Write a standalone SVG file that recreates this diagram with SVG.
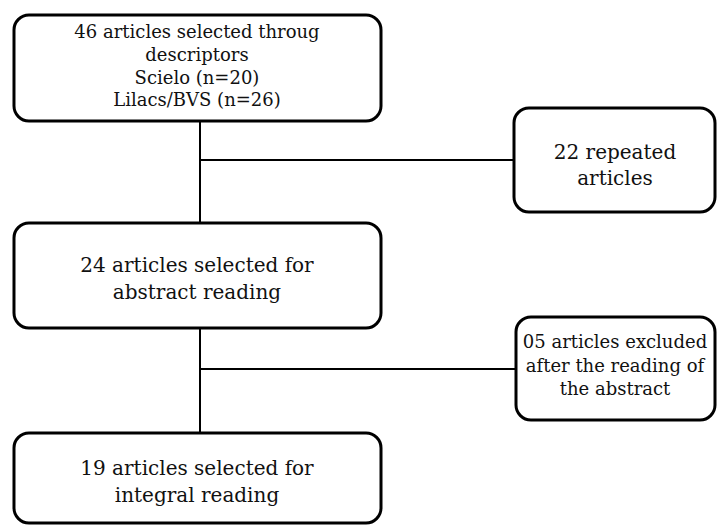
<svg xmlns="http://www.w3.org/2000/svg" width="717" height="528" viewBox="0 0 717 528">
<style>
.box{fill:#fff;stroke:#000;stroke-width:3}
.ln{stroke:#000;stroke-width:2;fill:none}
text{font-family:"DejaVu Serif","Liberation Serif",serif;fill:#111;text-anchor:middle}
.s{font-size:18px}
.m{font-size:20px}
</style>
<rect width="717" height="528" fill="#fff"/>
<g id="connectors">
<line class="ln" x1="200" y1="121" x2="200" y2="224"/>
<line class="ln" x1="200" y1="160" x2="514" y2="160"/>
<line class="ln" x1="200" y1="328" x2="200" y2="433"/>
<line class="ln" x1="200" y1="369" x2="516" y2="369"/>
</g>
<g id="n1">
<rect class="box" x="14" y="15" width="367" height="106" rx="15"/>
<text class="s" x="197" y="38">46 articles selected throug</text>
<text class="s" x="197" y="61">descriptors</text>
<text class="s" x="197" y="84">Scielo (n=20)</text>
<text class="s" x="197" y="106">Lilacs/BVS (n=26)</text>
</g>
<g id="n2">
<rect class="box" x="514" y="108" width="201" height="104" rx="15"/>
<text class="m" x="615" y="159">22 repeated</text>
<text class="m" x="615" y="185">articles</text>
</g>
<g id="n3">
<rect class="box" x="14" y="223" width="367" height="105" rx="15"/>
<text class="m" x="197" y="272">24 articles selected for</text>
<text class="m" x="197" y="299">abstract reading</text>
</g>
<g id="n4">
<rect class="box" x="516" y="317" width="199" height="103" rx="15"/>
<text class="s" x="615" y="348">05 articles excluded</text>
<text class="s" x="615" y="372">after the reading of</text>
<text class="s" x="615" y="395">the abstract</text>
</g>
<g id="n5">
<rect class="box" x="14" y="433" width="367" height="90" rx="15"/>
<text class="m" x="197" y="475">19 articles selected for</text>
<text class="m" x="197" y="502">integral reading</text>
</g>
</svg>
